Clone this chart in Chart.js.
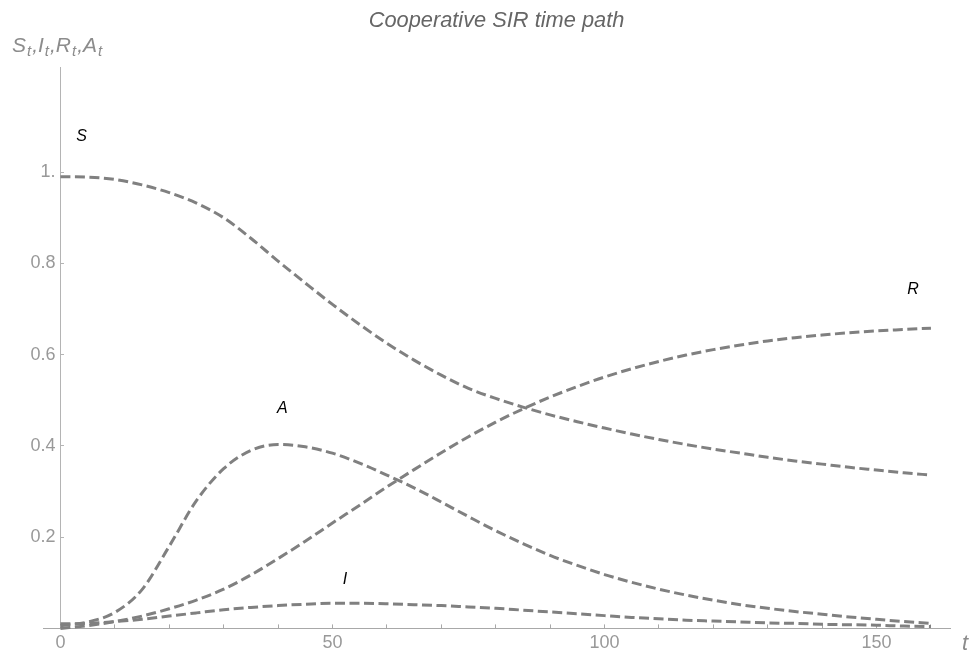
<!DOCTYPE html>
<html>
<head>
<meta charset="utf-8">
<title>Cooperative SIR time path</title>
<script src="https://cdn.jsdelivr.net/npm/chart.js@4.4.1/dist/chart.umd.min.js"></script>
<style>
    html, body { margin: 0; padding: 0; background: #ffffff; }
    #wrap { width: 975px; height: 657px; }
</style>
</head>
<body>
<div id="wrap"><canvas id="sir_chart" width="975" height="657"></canvas></div>
<script>
// time grid (t) and the four paths
var timeSteps   = [0, 5, 10, 15, 20, 25, 30, 35, 40, 45, 50, 55, 60, 65, 70, 75, 80,
                   85, 90, 95, 100, 105, 110, 115, 120, 125, 130, 135, 140, 145, 150, 155, 160];
var susceptible = [0.990, 0.989, 0.984, 0.972, 0.955, 0.932, 0.900, 0.855, 0.805, 0.757, 0.710,
                   0.666, 0.625, 0.588, 0.555, 0.526, 0.504, 0.485, 0.468, 0.453, 0.439, 0.426,
                   0.414, 0.403, 0.393, 0.384, 0.375, 0.367, 0.360, 0.353, 0.347, 0.341, 0.336];
var infected    = [0.010, 0.011, 0.015, 0.020, 0.027, 0.034, 0.041, 0.046, 0.050, 0.053, 0.055,
                   0.055, 0.054, 0.052, 0.050, 0.047, 0.044, 0.040, 0.036, 0.032, 0.028, 0.024,
                   0.021, 0.018, 0.016, 0.014, 0.012, 0.011, 0.009, 0.008, 0.007, 0.005, 0.004];
var recovered   = [0.000, 0.006, 0.015, 0.027, 0.043, 0.062, 0.086, 0.117, 0.153, 0.191, 0.231,
                   0.270, 0.310, 0.348, 0.385, 0.420, 0.452, 0.481, 0.507, 0.530, 0.551, 0.569,
                   0.585, 0.599, 0.611, 0.621, 0.630, 0.637, 0.643, 0.648, 0.652, 0.655, 0.658];
var avoiding    = [0.006, 0.014, 0.035, 0.085, 0.180, 0.280, 0.350, 0.390, 0.403, 0.398, 0.384,
                   0.362, 0.336, 0.308, 0.277, 0.245, 0.214, 0.186, 0.160, 0.138, 0.118, 0.101,
                   0.086, 0.073, 0.062, 0.052, 0.044, 0.037, 0.031, 0.025, 0.020, 0.015, 0.011];

var xLabelEvery = 50;          // only 0, 50, 100, 150 get a number
var yTickMax    = 1.0;         // no tick above 1.

// curve names, placed in data units
var curveNames = [
    { text: 'S', t: 3.9,   v: 1.077 },
    { text: 'R', t: 156.7, v: 0.743 },
    { text: 'A', t: 40.8,  v: 0.481 },
    { text: 'I', t: 52.3,  v: 0.108 }
];

var FONT = '"Liberation Sans", Arial, sans-serif';
var lineGrey = 'rgb(128, 128, 128)';

function toPoints(ys) {
    var pts = [];
    for (var i = 0; i < timeSteps.length; i++) {
        pts.push({ x: timeSteps[i], y: ys[i] });
    }
    return pts;
}

function pathDataset(label, ys) {
    return {
        label: label,
        data: toPoints(ys),
        borderColor: lineGrey,
        borderWidth: 3,
        borderDash: [10, 4.5],
        borderCapStyle: 'butt',
        pointRadius: 0,
        fill: false,
        cubicInterpolationMode: 'monotone',
        clip: false
    };
}

// text that the axes can't do: subscripts, the t name, the curve names
var annotatePlugin = {
    id: 'annotate',
    afterDraw: function(chart) {
        var ctx = chart.ctx;
        var xs = chart.scales.x;
        var ys = chart.scales.y;
        var area = chart.chartArea;
        ctx.save();

        ctx.fillStyle = '#000000';
        ctx.font = 'italic 16px ' + FONT;
        ctx.textAlign = 'center';
        ctx.textBaseline = 'middle';
        curveNames.forEach(function(c) {
            ctx.fillText(c.text, xs.getPixelForValue(c.t), ys.getPixelForValue(c.v));
        });

        // horizontal axis name
        ctx.fillStyle = '#8c8c8c';
        ctx.textAlign = 'left';
        ctx.textBaseline = 'alphabetic';
        ctx.font = 'italic 22px ' + FONT;
        ctx.fillText('t', area.right + 12, area.bottom + 22);

        // vertical axis name S_t,I_t,R_t,A_t
        var x = 12, base = 52;
        var parts = ['S', 'I', 'R', 'A'];
        for (var i = 0; i < parts.length; i++) {
            ctx.font = 'italic 21px ' + FONT;
            ctx.fillText(parts[i], x, base);
            x += ctx.measureText(parts[i]).width + 1;
            ctx.font = 'italic 15px ' + FONT;
            ctx.fillText('t', x, base + 4);
            x += ctx.measureText('t').width + 1;
            if (i < parts.length - 1) {
                ctx.font = 'italic 21px ' + FONT;
                ctx.fillText(',', x, base);
                x += ctx.measureText(',').width;
            }
        }
        ctx.restore();
    }
};

var ctxSir = document.getElementById('sir_chart').getContext('2d');

var sir_chart = new Chart(ctxSir, {
    type: 'line',
    data: {
        datasets: [
            pathDataset('S', susceptible),
            pathDataset('I', infected),
            pathDataset('R', recovered),
            pathDataset('A', avoiding)
        ]
    },
    options: {
        responsive: false,
        animation: false,
        layout: { padding: { left: 43, right: 25, top: 0, bottom: -5 } },
        plugins: {
            legend: { display: false },
            tooltip: { enabled: false },
            title: {
                display: true,
                text: 'Cooperative SIR time path',
                fullSize: false,
                color: '#666666',
                font: { family: FONT, size: 21.8, style: 'italic', weight: 'normal' },
                padding: { top: 8, bottom: 33 }
            }
        },
        scales: {
            x: {
                type: 'linear',
                min: -3.2,
                max: 163.5,
                grid: { drawOnChartArea: false, tickLength: -4, color: '#a8a8a8' },
                border: { color: '#a8a8a8', width: 1 },
                ticks: {
                    stepSize: 10,
                    includeBounds: false,
                    autoSkip: false,
                    maxRotation: 0,
                    padding: 8,
                    color: '#999999',
                    font: { family: FONT, size: 18 },
                    callback: function(v) {
                        return (v % xLabelEvery === 0) ? String(v) : '';
                    }
                }
            },
            y: {
                type: 'linear',
                position: { x: 0 },
                min: 0,
                max: 1.23,
                grid: { drawOnChartArea: false, tickLength: -4, color: '#b4b4b4' },
                border: { color: '#b4b4b4', width: 1 },
                afterBuildTicks: function(scale) {
                    scale.ticks = scale.ticks.filter(function(t) { return t.value <= yTickMax + 1e-6; });
                },
                ticks: {
                    stepSize: 0.2,
                    includeBounds: false,
                    padding: 10,
                    color: '#999999',
                    font: { family: FONT, size: 18 },
                    callback: function(v) {
                        // trailing space keeps the number off the axis line
                        if (Math.abs(v) < 1e-9) return '';
                        if (Math.abs(v - 1) < 1e-9) return '1. ';
                        return v.toFixed(1) + ' ';
                    }
                }
            }
        }
    },
    plugins: [annotatePlugin]
});
</script>
</body>
</html>
